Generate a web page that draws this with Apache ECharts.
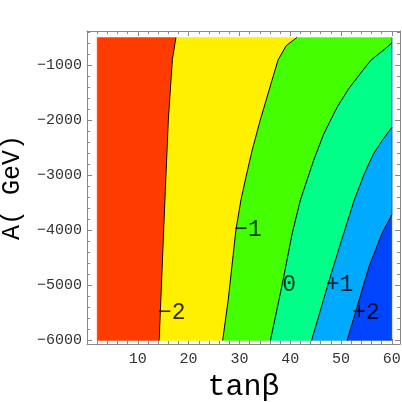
<!DOCTYPE html>
<html>
<head>
<meta charset="utf-8">
<script src="https://cdn.jsdelivr.net/npm/echarts@6/dist/echarts.min.js"></script>
<style>
    html, body { margin: 0; padding: 0; background: #fff; }
    #chart { width: 402px; height: 402px; }
</style>
</head>
<body>
<div id="chart"></div>
<script>
// contour lines (tanβ, A), each from the bottom edge up to the top or right edge
var contourM2 = [[14.2, -6000], [14.8, -4650], [15.4, -3300], [16.0, -2000], [16.8, -900], [17.5, -500]];
var contourM1 = [[26.7, -6000], [27.8, -5260], [29.3, -4000], [30.3, -3450], [31.3, -3030], [32.5, -2550],
                 [34.1, -2000], [36.4, -1280], [37.6, -910], [39.2, -650], [41.3, -500]];
var contour0 = [[36.1, -6000], [38.4, -4990], [40.4, -4050], [42.0, -3450], [44.6, -2730], [46.6, -2250],
                [49.2, -1770], [51.5, -1430], [54.5, -1070], [55.9, -910], [58.6, -710], [60, -600]];
var contourP1 = [[44.2, -6000], [47.6, -4930], [49.9, -4240], [52.6, -3450], [54.6, -2970], [56.4, -2610],
                 [58.1, -2370], [60, -2130]];
var contourP2 = [[51.2, -6000], [53.2, -5380], [55.5, -4660], [58.1, -4050], [60, -3720]];

// contour labels
var labelText = ['\u22122', '\u22121', '0', '+1', '+2'];
var labelPos = [[16.7, -5500], [31.7, -4000], [39.8, -5000], [49.7, -5000], [54.9, -5500]];

// ticks
var xMajor = [10, 20, 30, 40, 50, 60];
var xMinor = [2, 4, 6, 8, 12, 14, 16, 18, 22, 24, 26, 28, 32, 34, 36, 38, 42, 44, 46, 48, 52, 54, 56, 58];
var yMajor = [-6000, -5000, -4000, -3000, -2000, -1000];
var yMinor = [-5800, -5600, -5400, -5200, -4800, -4600, -4400, -4200, -3800, -3600, -3400, -3200,
              -2800, -2600, -2400, -2200, -1800, -1600, -1400, -1200, -800, -600, -400];

var xMin = 0, xMax = 61.6, yMin = -6064, yMax = -382;
var dataLeft = 2, dataRight = 60, dataTop = -500, dataBottom = -6000;

var fillColors = ['#ff3c00', '#fff000', '#44ff00', '#00ff88', '#00aaff', '#0044ff'];
var frameColor = '#888';
var fontMono = '"Liberation Mono", "DejaVu Sans Mono", monospace';

var leftEdge = [[dataLeft, dataBottom], [dataLeft, dataTop]];
var rightEdge = [[dataRight, dataBottom], [dataRight, dataTop]];
var boundaries = [leftEdge, contourM2, contourM1, contour0, contourP1, contourP2, rightEdge];

function endsTop(c) {
    return c[c.length - 1][1] === dataTop;
}

function regionItem(params, api) {
    var i = params.dataIndex;
    var a = boundaries[i], b = boundaries[i + 1];
    var pts = a.slice();
    if (endsTop(a) && !endsTop(b)) pts.push([dataRight, dataTop]);
    pts = pts.concat(b.slice().reverse());
    return {
        type: 'polygon',
        shape: { points: pts.map(function (p) { return api.coord(p); }) },
        style: { fill: fillColors[i], stroke: fillColors[i], lineWidth: 0.5 }
    };
}

function fmt(v) {
    return String(v).replace('-', '\u2212');
}

function xAxisDef(pos, ticks, len, main) {
    return {
        type: 'value', position: pos, min: xMin, max: xMax,
        axisLine: { show: main, onZero: false, lineStyle: { color: frameColor, width: 1 } },
        axisTick: { inside: true, length: len, customValues: ticks, lineStyle: { color: frameColor } },
        axisLabel: { show: false },
        splitLine: { show: false }
    };
}

function yAxisDef(pos, ticks, len, main) {
    return {
        type: 'value', position: pos, min: yMin, max: yMax,
        axisLine: { show: main, onZero: false, lineStyle: { color: frameColor, width: 1 } },
        axisTick: { inside: true, length: len, customValues: ticks, lineStyle: { color: frameColor } },
        axisLabel: { show: false },
        splitLine: { show: false }
    };
}

var xAxes = [
    xAxisDef('bottom', xMajor, 5, true),
    xAxisDef('bottom', xMinor, 3, false),
    xAxisDef('top', xMajor, 5, true),
    xAxisDef('top', xMinor, 3, false)
];
xAxes[0].axisLabel = { show: true, customValues: xMajor, margin: 8, color: '#333', fontFamily: fontMono, fontSize: 15 };
xAxes[0].name = 'tan\u03b2';
xAxes[0].nameLocation = 'middle';
xAxes[0].nameGap = 18;
xAxes[0].nameTextStyle = { fontFamily: fontMono, fontSize: 30, color: '#000' };

var yAxes = [
    yAxisDef('left', yMajor, 5, true),
    yAxisDef('left', yMinor, 3, false),
    yAxisDef('right', yMajor, 5, true),
    yAxisDef('right', yMinor, 3, false)
];
yAxes[0].axisLabel = { show: true, customValues: yMajor, margin: 5, color: '#333', fontFamily: fontMono, fontSize: 15, formatter: fmt };
yAxes[0].name = 'A( GeV)';
yAxes[0].nameLocation = 'middle';
yAxes[0].nameGap = 62;
yAxes[0].nameTextStyle = { fontFamily: fontMono, fontSize: 25, color: '#000' };

var series = [{
    type: 'custom',
    renderItem: regionItem,
    data: fillColors.map(function (c, i) { return [i, -3000]; }),
    silent: true,
    z: 1
}];

[contourM2, contourM1, contour0, contourP1, contourP2].forEach(function (c) {
    series.push({
        type: 'line',
        data: c,
        showSymbol: false,
        symbol: 'none',
        silent: true,
        lineStyle: { color: '#000', width: 1 },
        z: 3
    });
});

series.push({
    type: 'scatter',
    data: labelPos,
    symbolSize: 1,
    itemStyle: { color: 'transparent' },
    silent: true,
    z: 4,
    label: {
        show: true,
        position: 'inside',
        formatter: function (p) { return labelText[p.dataIndex]; },
        fontFamily: fontMono,
        fontSize: 23,
        color: '#000'
    }
});

var myChart = echarts.init(document.getElementById('chart'));
myChart.setOption({
    animation: false,
    backgroundColor: '#fff',
    grid: { left: 87, right: 2, top: 31, bottom: 58, outerBoundsMode: 'none' },
    xAxis: xAxes,
    yAxis: yAxes,
    series: series
});
</script>
</body>
</html>
